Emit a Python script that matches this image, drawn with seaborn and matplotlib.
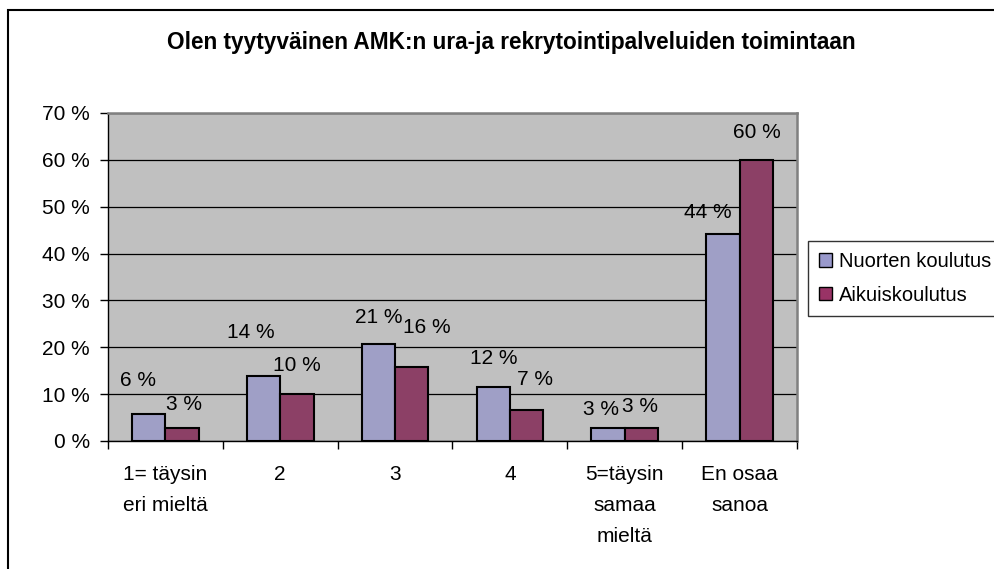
import matplotlib
matplotlib.use("Agg")
import matplotlib.pyplot as plt
import seaborn as sns
import pandas as pd
from matplotlib.patches import Rectangle, Patch

# ---- data ----
categories = ["1= täysin\neri mieltä", "2", "3", "4", "5=täysin\nsamaa\nmieltä", "En osaa\nsanoa"]
series_names = ["Nuorten koulutus", "Aikuiskoulutus"]
nuorten = [5.8, 13.8, 20.7, 11.6, 2.8, 44.1]
aikuis = [2.8, 10.0, 15.8, 6.6, 2.8, 59.9]
yticks = [0, 10, 20, 30, 40, 50, 60, 70]
title = "Olen tyytyväinen AMK:n ura-ja rekrytointipalveluiden toimintaan"

# label offsets (pixels) relative to bar top centre
label_dx = {0: [-11, -13, 0, 0, -7, -15], 1: [2, 0, 15, 8, -1, 1]}
label_dy = {0: [33, 44, 27, 28, 18, 22], 1: [23, 29, 39, 31, 21, 28]}

colors = ["#9999CC", "#993366"]

df = pd.DataFrame({
    "cat": categories * 2,
    "series": [series_names[0]] * 6 + [series_names[1]] * 6,
    "value": nuorten + aikuis,
})

plt.rcParams["font.family"] = ["Liberation Sans", "DejaVu Sans"]
FS = 15

W, H = 995, 569
fig = plt.figure(figsize=(W / 100, H / 100), dpi=100)
ax = fig.add_axes([108 / W, 1 - 441 / H, (797 - 108) / W, (441 - 113) / H])
ax.set_facecolor("#C0C0C0")

sns.barplot(data=df, x="cat", y="value", hue="series", order=categories,
            hue_order=series_names, palette=colors, width=0.58,
            edgecolor="black", linewidth=1.5, ax=ax, legend=False, zorder=3)

ax.set_ylim(0, 70)
ax.set_xlim(-0.5, 5.5)
ax.set_yticks(yticks)
ax.set_yticklabels([f"{v} %" for v in yticks], fontsize=FS)
ax.set_xticks(range(len(categories)))
ax.set_xticklabels(categories, fontsize=FS, linespacing=1.8, va="top")
ax.set_xticks([i - 0.5 for i in range(len(categories) + 1)], minor=True)
ax.tick_params(axis="x", which="major", length=0, pad=17)
ax.tick_params(axis="x", which="minor", length=6, width=1, color="black")
ax.tick_params(axis="y", length=6, width=1, pad=7, color="black")
ax.set_xlabel("")
ax.set_ylabel("")
ax.grid(axis="y", color="black", linewidth=0.9)
ax.set_axisbelow(True)
for s in ["left", "bottom"]:
    ax.spines[s].set_color("black")
    ax.spines[s].set_linewidth(1.0)
for s in ["top", "right"]:
    ax.spines[s].set_color("#808080")
    ax.spines[s].set_linewidth(1.8)

for si, cont in enumerate(ax.containers):
    for bi, bar in enumerate(cont):
        v = bar.get_height()
        ax.annotate(f"{round(v)} %", (bar.get_x() + bar.get_width() / 2, v),
                    xytext=(label_dx[si][bi], label_dy[si][bi]),
                    textcoords="offset pixels", ha="center", va="center",
                    fontsize=FS, zorder=5)

fig.text(511 / W, 1 - 43 / H, title, ha="center", va="center",
         fontsize=16.3, fontweight="bold")

handles = [Patch(facecolor=c, edgecolor="black", linewidth=1.0) for c in colors]
leg = fig.legend(handles, series_names, loc="upper left",
                 bbox_to_anchor=(808 / W, 1 - 241 / H), fontsize=14.5,
                 frameon=True, fancybox=False, edgecolor="black",
                 handlelength=0.65, handleheight=0.65, handletextpad=0.35,
                 borderpad=0.55, labelspacing=0.72, borderaxespad=0)
leg.get_frame().set_linewidth(1.0)

fig.patches.append(Rectangle((8 / W, -0.1), 1.2, 1 - 10 / H + 0.1,
                             transform=fig.transFigure, fill=False,
                             edgecolor="black", linewidth=1.5, zorder=0))

fig.savefig("out.png", dpi=100, facecolor="white")
